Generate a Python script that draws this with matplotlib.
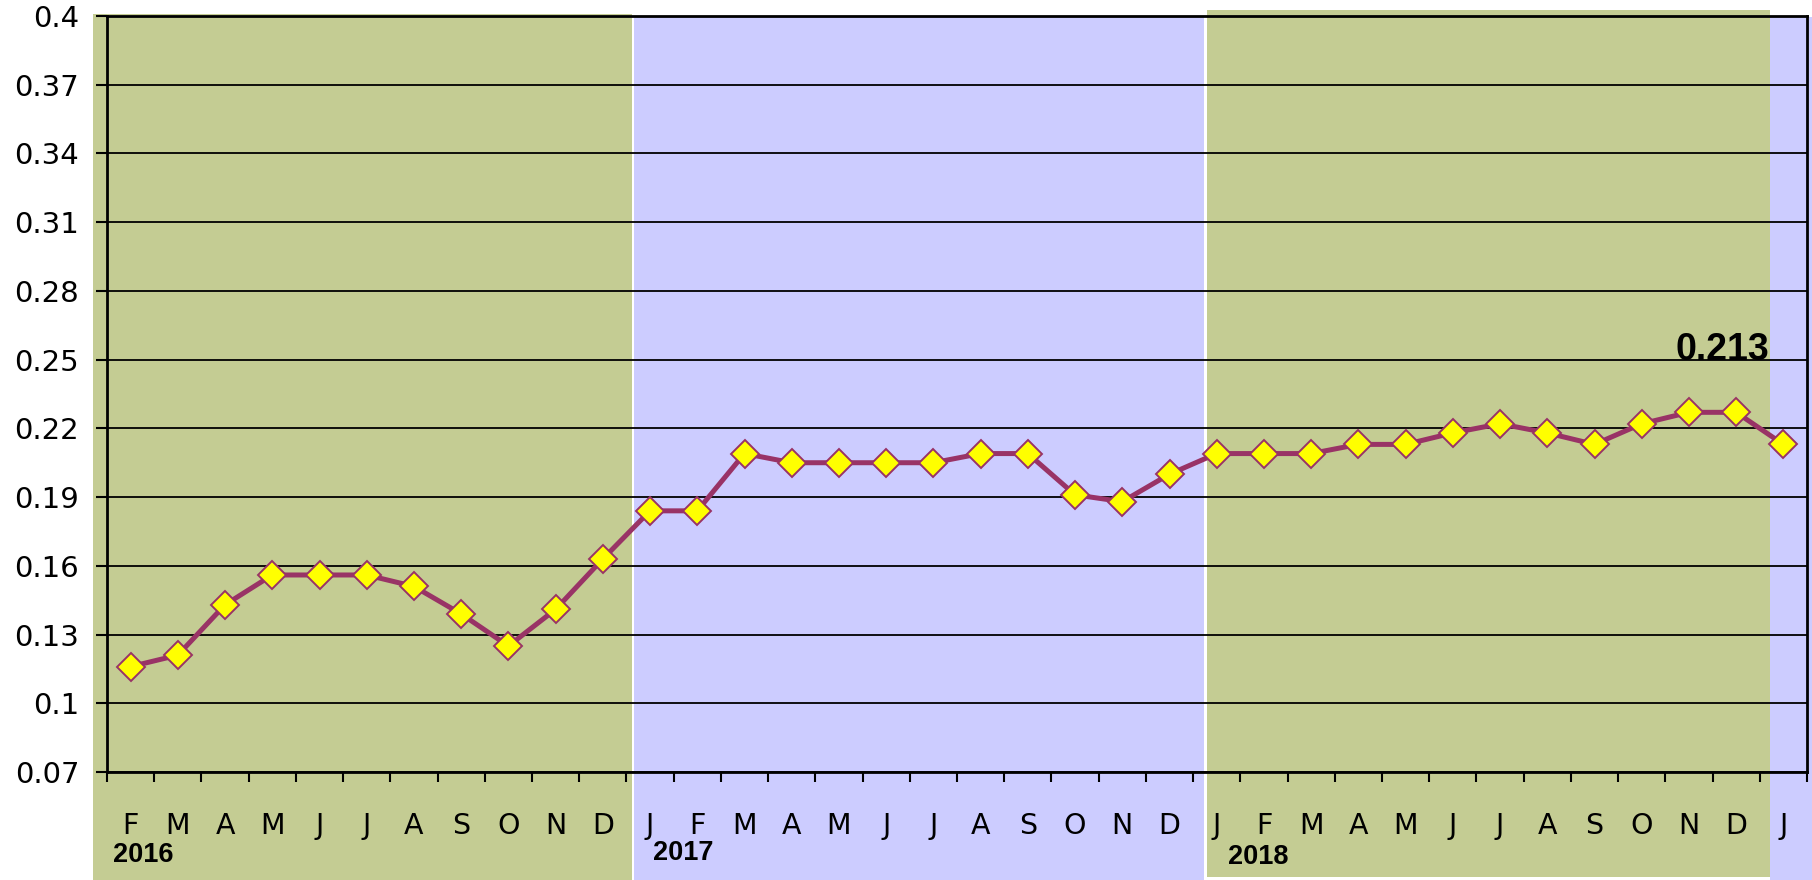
import matplotlib
matplotlib.use("Agg")
import matplotlib.pyplot as plt
import matplotlib.transforms as mtransforms
from matplotlib.patches import Rectangle
import numpy as np

# monthly values, Feb 2016 .. Jan 2019
months = ['F', 'M', 'A', 'M', 'J', 'J', 'A', 'S', 'O', 'N', 'D',
          'J', 'F', 'M', 'A', 'M', 'J', 'J', 'A', 'S', 'O', 'N', 'D',
          'J', 'F', 'M', 'A', 'M', 'J', 'J', 'A', 'S', 'O', 'N', 'D',
          'J']
values = [0.116, 0.121, 0.143, 0.156, 0.156, 0.156, 0.151, 0.139, 0.125, 0.141, 0.163,
          0.184, 0.184, 0.209, 0.205, 0.205, 0.205, 0.205, 0.209, 0.209, 0.191, 0.188, 0.200,
          0.209, 0.209, 0.209, 0.213, 0.213, 0.218, 0.222, 0.218, 0.213, 0.222, 0.227, 0.227,
          0.213]
years = ['2016', '2017', '2018']
year_x = [-0.37, 11.07, 23.23]
year_dy = [-60, -58, -61]
y_ticks = [0.07, 0.1, 0.13, 0.16, 0.19, 0.22, 0.25, 0.28, 0.31, 0.34, 0.37, 0.4]
y_labels = ['0.07', '0.1', '0.13', '0.16', '0.19', '0.22', '0.25', '0.28', '0.31', '0.34', '0.37', '0.4']
last_label = '0.213'

# background bands: (x start, x end, top px, bottom px, colour)
green = '#c4cc93'
blue = '#ccccff'
bands = [(-0.8, 10.62, 14, 880, green),
         (10.66, 22.72, 16, 880, blue),
         (22.80, 34.71, 10, 877, green),
         (34.71, 35.7, 17, 880, blue)]

fig = plt.figure(figsize=(18.12, 8.80), dpi=100)
ax = fig.add_axes([107 / 1812, 1 - 772 / 880, (1807 - 107) / 1812, (772 - 16) / 880])
ax.patch.set_visible(False)

x = np.arange(len(values))
trans = mtransforms.blended_transform_factory(ax.transData, fig.transFigure)
for x0, x1, top, bot, col in bands:
    ax.add_patch(Rectangle((x0, 1 - bot / 880), x1 - x0, (bot - top) / 880,
                           transform=trans, facecolor=col, edgecolor='none',
                           clip_on=False, zorder=0))

ax.plot(x, values, color='#993366', lw=3.6, marker='D', markersize=14.5,
        markerfacecolor='#ffff00', markeredgecolor='#993366', markeredgewidth=1.4,
        zorder=5, clip_on=False)

ax.set_xlim(-0.5, len(values) - 0.5)
ax.set_ylim(0.07, 0.4)

ax.set_yticks(y_ticks)
ax.set_yticklabels(y_labels, fontsize=21)
ax.tick_params(axis='y', direction='out', length=8, width=1.5, pad=12, colors='black')

ax.set_xticks(np.arange(-0.5, len(values), 1.0))
ax.set_xticklabels([])
ax.set_xticks(x, minor=True)
ax.set_xticklabels(months, minor=True, fontsize=20.5)
ax.tick_params(axis='x', which='major', direction='out', length=7, width=1.5)
ax.tick_params(axis='x', which='minor', length=0, pad=28.5)

ax.yaxis.grid(True, color='black', lw=1.3)
ax.set_axisbelow(True)
for s in ['left', 'bottom', 'top', 'right']:
    ax.spines[s].set_color('black')
    ax.spines[s].set_linewidth(2)
    ax.spines[s].set_zorder(3)

for lab, xp, dy in zip(years, year_x, year_dy):
    ax.annotate(lab, xy=(xp, 0), xycoords=('data', 'axes fraction'),
                xytext=(0, dy), textcoords='offset points',
                ha='left', va='center', fontsize=19.5, fontweight='bold',
                family=['Liberation Sans', 'DejaVu Sans'], annotation_clip=False)

ax.annotate(last_label, xy=(34.7, values[-1]), xycoords='data',
            xytext=(0, 68), textcoords='offset points',
            ha='right', va='center', fontsize=27, fontweight='bold',
            family=['Liberation Sans', 'DejaVu Sans'])

fig.savefig('out.png', dpi=100)
